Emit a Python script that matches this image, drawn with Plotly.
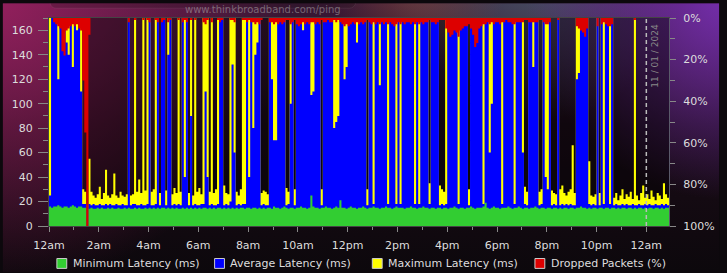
import base64
import plotly.graph_objects as go

# ---------------- data (5-minute samples, starting 12am) ----------------
sample_hours = 1 / 12

min_latency = [
    16, 15, 16, 16, 17, 16, 15, 16, 16, 15,
    16, 17, 16, 15, 16, 16, 15, 15, 0, 14,
    15, 14, 14, 15, 14, 15, 14, 14, 15, 14,
    15, 14, 14, 15, 14, 14, 15, 14, 15, 14,
    14, 15, 14, 15, 14, 14, 15, 14, 15, 14,
    15, 14, 15, 14, 15, 15, 14, 15, 14, 15,
    14, 15, 14, 14, 15, 14, 15, 14, 15, 14,
    15, 14, 15, 14, 15, 15, 14, 15, 14, 15,
    14, 15, 15, 14, 15, 14, 15, 14, 15, 14,
    15, 14, 15, 15, 14, 15, 15, 14, 15, 15,
    14, 15, 14, 15, 14, 15, 15, 14, 16, 15,
    15, 14, 15, 16, 15, 14, 15, 15, 14, 15,
    15, 16, 15, 15, 14, 15, 25, 16, 15, 15,
    14, 15, 15, 16, 15, 15, 14, 15, 16, 15,
    21, 15, 15, 14, 15, 16, 15, 15, 14, 15,
    15, 16, 15, 14, 15, 15, 16, 15, 15, 14,
    15, 15, 16, 15, 15, 14, 15, 16, 15, 15,
    15, 14, 15, 15, 16, 15, 15, 14, 15, 15,
    16, 15, 15, 14, 15, 15, 14, 15, 15, 14,
    15, 15, 14, 15, 15, 16, 15, 14, 15, 15,
    14, 15, 15, 16, 15, 14, 15, 15, 15, 16,
    19, 15, 14, 15, 16, 15, 15, 14, 15, 15,
    15, 16, 15, 14, 15, 15, 16, 15, 14, 15,
    15, 14, 15, 15, 16, 15, 14, 15, 15, 14,
    15, 15, 14, 15, 15, 14, 15, 14, 15, 15,
    14, 15, 15, 14, 15, 15, 16, 15, 15, 14,
    15, 14, 15, 15, 14, 15, 15, 14, 15, 15,
    14, 15, 15, 14, 15, 14, 15, 15, 14, 15,
    15, 14, 15, 14, 15, 15, 14, 15, 14, 15,
    15, 14, 15, 15, 14, 15, 14, 15, 15, 14,
]

avg_latency = [
    25, 200, 200, 200, 120, 200, 200, 200, 150, 140,
    200, 130, 200, 160, 200, 110, 18, 18, 0, 18,
    17, 18, 17, 17, 18, 17, 17, 18, 17, 18,
    17, 17, 18, 17, 17, 18, 17, 17, 200, 17,
    18, 18, 17, 17, 18, 17, 17, 18, 200, 17,
    17, 18, 200, 17, 200, 200, 17, 140, 200, 17,
    18, 17, 18, 17, 200, 40, 200, 17, 90, 17,
    18, 17, 17, 18, 18, 110, 40, 17, 18, 17,
    17, 18, 200, 200, 17, 18, 17, 20, 132, 60,
    17, 18, 17, 18, 18, 200, 40, 200, 80, 140,
    150, 200, 17, 18, 17, 17, 200, 120, 70, 70,
    200, 200, 200, 200, 17, 18, 100, 200, 17, 200,
    200, 200, 160, 200, 200, 200, 107, 110, 200, 200,
    200, 17, 200, 200, 200, 200, 200, 80, 85, 90,
    200, 200, 120, 130, 200, 200, 200, 200, 150, 200,
    200, 200, 200, 17, 200, 200, 18, 200, 200, 115,
    200, 200, 200, 18, 200, 200, 200, 18, 200, 18,
    200, 200, 200, 200, 200, 200, 18, 200, 18, 200,
    200, 200, 200, 18, 200, 200, 200, 200, 17, 18,
    17, 18, 200, 200, 200, 200, 200, 18, 200, 200,
    200, 200, 17, 200, 200, 200, 200, 200, 200, 18,
    200, 200, 60, 100, 200, 200, 200, 200, 18, 200,
    200, 200, 200, 200, 18, 200, 200, 200, 60, 18,
    17, 200, 200, 130, 200, 200, 17, 18, 200, 40,
    30, 200, 17, 18, 17, 200, 17, 18, 17, 18,
    17, 18, 17, 17, 120, 125, 200, 200, 200, 200,
    18, 17, 18, 17, 200, 17, 200, 18, 200, 200,
    18, 200, 17, 18, 17, 17, 18, 17, 18, 17,
    17, 18, 17, 17, 18, 17, 17, 18, 17, 18,
    17, 17, 18, 17, 17, 18, 17, 18, 17, 17,
]

max_latency = [
    200, 200, 200, 200, 200, 200, 200, 200, 200, 200,
    200, 200, 200, 200, 200, 200, 30, 28, 0, 55,
    28, 25, 23, 26, 32, 22, 27, 46, 25, 23,
    26, 43, 25, 23, 28, 25, 24, 26, 200, 25,
    26, 200, 28, 38, 27, 200, 29, 200, 200, 28,
    30, 200, 200, 27, 200, 200, 29, 200, 200, 26,
    31, 27, 200, 28, 200, 200, 200, 27, 200, 25,
    200, 28, 31, 26, 200, 200, 200, 28, 200, 27,
    30, 200, 200, 200, 33, 27, 26, 200, 200, 200,
    28, 25, 30, 200, 200, 200, 200, 200, 200, 200,
    200, 200, 27, 29, 28, 26, 200, 200, 200, 200,
    200, 200, 200, 200, 31, 28, 200, 200, 30, 200,
    200, 200, 200, 200, 200, 200, 200, 200, 200, 200,
    200, 30, 200, 200, 200, 200, 200, 200, 200, 200,
    200, 200, 200, 200, 200, 200, 200, 200, 200, 200,
    200, 200, 200, 30, 200, 200, 200, 200, 200, 200,
    200, 200, 200, 200, 200, 200, 200, 200, 200, 200,
    200, 200, 200, 200, 200, 200, 200, 200, 200, 200,
    200, 200, 200, 35, 200, 200, 200, 200, 33, 30,
    28, 200, 200, 200, 200, 200, 200, 200, 200, 200,
    200, 200, 30, 200, 200, 200, 200, 200, 200, 200,
    200, 200, 200, 200, 200, 200, 200, 200, 200, 200,
    200, 200, 200, 200, 200, 200, 200, 200, 200, 32,
    28, 200, 200, 200, 200, 200, 28, 30, 200, 200,
    200, 200, 29, 27, 26, 200, 30, 33, 27, 25,
    28, 30, 66, 27, 200, 200, 200, 200, 200, 200,
    53, 25, 24, 26, 200, 27, 200, 200, 200, 200,
    200, 200, 23, 27, 21, 25, 30, 22, 26, 24,
    28, 22, 200, 25, 21, 27, 33, 23, 26, 22,
    29, 24, 21, 27, 25, 22, 35, 26, 23, 28,
]

dropped_pct = [
    0, 0, 2, 3, 4, 5, 16, 18, 6, 5,
    4, 3, 4, 3, 5, 6, 30, 55, 100, 8,
    0, 0, 0, 0, 0, 0, 0, 0, 0, 0,
    0, 0, 0, 0, 0, 0, 0, 0, 2, 0,
    0, 1, 0, 0, 0, 1, 0, 1, 2, 0,
    0, 1, 2, 0, 2, 1, 0, 2, 1, 0,
    0, 0, 1, 0, 2, 1, 2, 0, 1, 0,
    1, 0, 0, 0, 2, 3, 1, 0, 2, 0,
    0, 1, 2, 1, 0, 0, 0, 1, 1, 2,
    0, 0, 0, 1, 1, 2, 1, 2, 2, 3,
    2, 3, 1, 0, 0, 0, 2, 2, 3, 2,
    3, 2, 3, 2, 1, 1, 3, 2, 1, 3,
    4, 3, 2, 3, 2, 3, 2, 2, 3, 2,
    3, 1, 2, 2, 1, 2, 2, 1, 2, 1,
    2, 3, 4, 3, 4, 3, 2, 3, 2, 3,
    2, 3, 2, 1, 2, 3, 2, 3, 2, 3,
    2, 3, 2, 3, 2, 3, 4, 3, 2, 3,
    2, 3, 2, 2, 3, 2, 3, 2, 3, 2,
    3, 2, 2, 1, 2, 2, 3, 2, 1, 1,
    1, 5, 7, 9, 8, 6, 7, 9, 6, 5,
    4, 4, 3, 5, 8, 14, 12, 5, 4, 3,
    3, 2, 3, 2, 3, 2, 2, 3, 2, 2,
    1, 2, 2, 3, 3, 2, 2, 2, 2, 1,
    1, 2, 2, 2, 2, 2, 1, 1, 2, 3,
    3, 2, 0, 0, 0, 1, 0, 0, 0, 0,
    0, 0, 0, 0, 4, 5, 6, 7, 9, 5,
    0, 0, 0, 0, 4, 0, 3, 2, 3, 4,
    4, 3, 0, 0, 0, 0, 0, 0, 0, 0,
    0, 0, 1, 0, 0, 0, 0, 0, 0, 0,
    0, 0, 0, 0, 0, 0, 0, 0, 0, 0,
]

x_tick_vals = list(range(0, 25, 2))
x_tick_text = ["12am", "2am", "4am", "6am", "8am", "10am", "12pm",
               "2pm", "4pm", "6pm", "8pm", "10pm", "12am"]
y_tick_vals = list(range(0, 161, 20))
y2_tick_vals = list(range(0, 101, 20))
y2_tick_text = [f"{v}%" for v in y2_tick_vals]
series_names = ["Minimum Latency (ms)", "Average Latency (ms)",
                "Maximum Latency (ms)", "Dropped Packets (%)"]
series_colors = ["#32cd32", "#0000ff", "#ffff00", "#dd0000"]
date_label = "11 / 01 / 2024"
site_label = "www.thinkbroadband.com/ping"

# ---------------- layout geometry ----------------
W, H = 727, 273
ML, MR, MT, MB = 47, 51, 15, 47
PW, PH = W - ML - MR, H - MT - MB
PX_PER_HOUR = 25.25
X_END = PW / PX_PER_HOUR


def px_x(p):
    return (p - ML) / PW


def px_y(p):
    return (H - MB - p) / PH


def step(vals):
    xs = [i * sample_hours for i in range(len(vals) + 1)]
    ys = list(vals) + [vals[-1]]
    return xs, ys


fig = go.Figure()
for vals, col in [(max_latency, series_colors[2]),
                  (avg_latency, series_colors[1]),
                  (min_latency, series_colors[0])]:
    xs, ys = step(vals)
    fig.add_trace(go.Scatter(x=xs, y=ys, mode="lines", fill="tozeroy",
                             line=dict(width=0, shape="hv", color=col),
                             fillcolor=col, hoverinfo="skip", showlegend=False))
xs, ys = step(dropped_pct)
fig.add_trace(go.Scatter(x=xs, y=ys, yaxis="y2", mode="lines", fill="tozeroy",
                         line=dict(width=0, shape="hv", color=series_colors[3]),
                         fillcolor=series_colors[3], hoverinfo="skip", showlegend=False))

# ---------------- background (SVG gradient image) ----------------
svg = f"""<svg xmlns="http://www.w3.org/2000/svg" width="{W}" height="{H}" viewBox="0 0 {W} {H}">
<defs>
<linearGradient id="v" x1="0" y1="0" x2="0" y2="1">
<stop offset="0" stop-color="#3a1836"/><stop offset="0.45" stop-color="#1c0c18"/><stop offset="1" stop-color="#0c080c"/>
</linearGradient>
<radialGradient id="tl" gradientUnits="userSpaceOnUse" cx="-10" cy="-10" r="300">
<stop offset="0" stop-color="#9a2060" stop-opacity="0.95"/><stop offset="1" stop-color="#9a2060" stop-opacity="0"/>
</radialGradient>
<radialGradient id="tr" gradientUnits="userSpaceOnUse" cx="740" cy="-10" r="210">
<stop offset="0" stop-color="#7a30b8" stop-opacity="0.95"/><stop offset="1" stop-color="#7a30b8" stop-opacity="0"/>
</radialGradient>
<radialGradient id="tm" gradientUnits="userSpaceOnUse" cx="540" cy="-30" r="150">
<stop offset="0" stop-color="#4a6070" stop-opacity="0.8"/><stop offset="1" stop-color="#4a6070" stop-opacity="0"/>
</radialGradient>
<radialGradient id="or" gradientUnits="userSpaceOnUse" cx="420" cy="-20" r="90">
<stop offset="0" stop-color="#8a5040" stop-opacity="0.6"/><stop offset="1" stop-color="#8a5040" stop-opacity="0"/>
</radialGradient>
</defs>
<rect width="{W}" height="{H}" fill="url(#v)"/>
<rect width="{W}" height="{H}" fill="url(#tl)"/>
<rect width="{W}" height="{H}" fill="url(#tm)"/>
<rect width="{W}" height="{H}" fill="url(#or)"/>
<rect width="{W}" height="{H}" fill="url(#tr)"/>
<rect x="48" y="-20" width="310" height="25" rx="6" fill="#201018" fill-opacity="0.25" stroke="#ffffff" stroke-opacity="0.08"/>
<rect x="{ML}" y="{MT}" width="{PW}" height="{PH}" fill="#000000" fill-opacity="0.4"/>
</svg>"""
svg_uri = "data:image/svg+xml;base64," + base64.b64encode(svg.encode()).decode()

shapes = [dict(type="line", xref="x", yref="paper", x0=24, x1=24, y0=0, y1=1,
               line=dict(color="#bbbbbb", width=1.5, dash="4px,3px"))]
annotations = []
legend_px = [55, 215, 375, 540]
for name, col, p in zip(series_names, series_colors, legend_px):
    shapes.append(dict(type="rect", xref="paper", yref="paper",
                       x0=px_x(p), x1=px_x(p + 10), y0=px_y(269), y1=px_y(259),
                       fillcolor=col, line=dict(color="#cccccc", width=1)))
    annotations.append(dict(xref="paper", yref="paper", x=px_x(p + 14), y=px_y(264),
                            text=name, showarrow=False, xanchor="left", yanchor="middle",
                            font=dict(family="DejaVu Sans", size=11, color="#dddddd")))
annotations.append(dict(xref="paper", yref="paper", x=px_x(662), y=px_y(53),
                        text=date_label, textangle=-90, showarrow=False,
                        xanchor="center", yanchor="middle",
                        font=dict(family="DejaVu Sans", size=9, color="#888888")))
annotations.append(dict(xref="paper", yref="paper", x=px_x(264), y=px_y(6),
                        text=site_label, showarrow=False, xanchor="center", yanchor="middle",
                        font=dict(family="DejaVu Sans", size=10, color="rgba(170,170,170,0.55)")))

tickfont = dict(family="DejaVu Sans", size=11, color="#dddddd")
fig.update_layout(
    width=W, height=H,
    margin=dict(l=ML, r=MR, t=MT, b=MB, pad=0),
    paper_bgcolor="#0c080c", plot_bgcolor="rgba(0,0,0,0)",
    showlegend=False,
    images=[dict(source=svg_uri, xref="paper", yref="paper",
                 x=-ML / PW, y=1 + MT / PH, sizex=W / PW, sizey=H / PH,
                 xanchor="left", yanchor="top", sizing="stretch", layer="below")],
    xaxis=dict(range=[0, X_END], tickmode="array", tickvals=x_tick_vals, ticktext=x_tick_text,
               ticks="outside", ticklen=5, tickcolor="#888888", tickfont=tickfont,
               ticklabelstandoff=4,
               minor=dict(tickmode="linear", tick0=0, dtick=1, ticks="outside",
                          ticklen=3, tickcolor="#888888", showgrid=False),
               showgrid=False, zeroline=False, showline=True, linecolor="#444444",
               mirror=True, fixedrange=True),
    yaxis=dict(range=[0, 170], tickmode="array", tickvals=y_tick_vals,
               ticks="outside", ticklen=10, tickcolor="#888888", tickfont=tickfont,
               ticklabelstandoff=3,
               minor=dict(tickmode="linear", tick0=0, dtick=10, ticks="outside",
                          ticklen=5, tickcolor="#888888", showgrid=False),
               showgrid=False, zeroline=False, showline=True, linecolor="#444444"),
    yaxis2=dict(range=[100, 0], overlaying="y", side="right", tickmode="array",
                tickvals=y2_tick_vals, ticktext=y2_tick_text,
                ticks="outside", ticklen=6, tickcolor="#888888", tickfont=tickfont,
                ticklabelstandoff=5,
                minor=dict(tickmode="linear", tick0=0, dtick=10, ticks="outside",
                           ticklen=5, tickcolor="#888888", showgrid=False),
                showgrid=False, zeroline=False, showline=True, linecolor="#5a5a6a"),
    shapes=shapes, annotations=annotations,
)

fig.write_html("out.html")
